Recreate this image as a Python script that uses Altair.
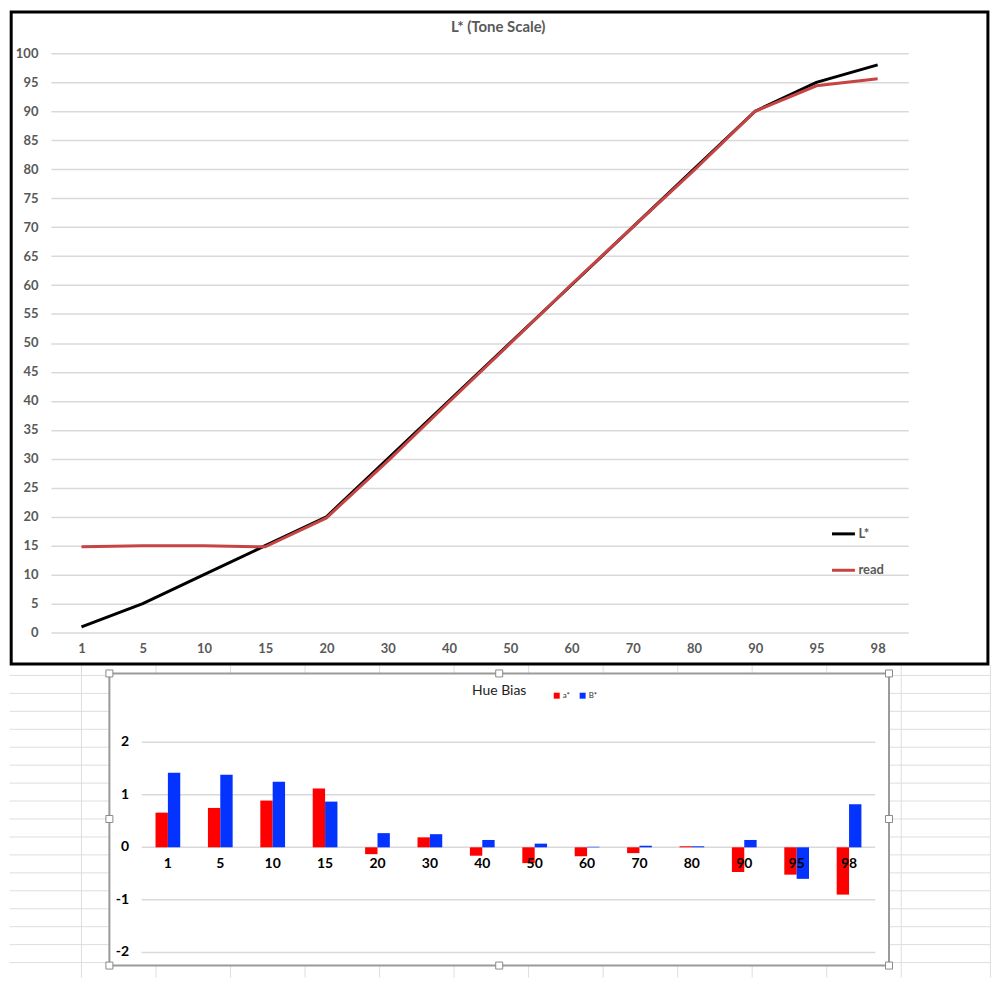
import altair as alt
import pandas as pd

# ---------------- data ----------------
categories = ["1", "5", "10", "15", "20", "30", "40", "50", "60", "70", "80", "90", "95", "98"]
l_star = [1, 5, 10, 15, 20, 30, 40, 50, 60, 70, 80, 90, 95, 98]
read = [14.8, 15.0, 15.0, 14.8, 19.8, 29.6, 39.8, 49.9, 60.1, 70.0, 79.8, 90.0, 94.4, 95.6]
a_star = [0.66, 0.75, 0.89, 1.12, -0.13, 0.19, -0.16, -0.30, -0.17, -0.11, 0.02, -0.47, -0.52, -0.90]
b_star = [1.42, 1.38, 1.25, 0.87, 0.27, 0.25, 0.14, 0.07, 0.01, 0.03, 0.02, 0.14, -0.60, 0.82]
tone_series = ["L*", "read"]
hue_series = ["a*", "B*"]
top_ticks = list(range(0, 101, 5))
bottom_ticks = [2, 1, 0, -1, -2]
bottom_tick_labels = ["2", "1", "0", "-1", "-2"]
top_title = "L* (Tone Scale)"
bottom_title = "Hue Bias"

FONT = "Lato"
GRID = "#d9d9d9"
LABEL_GREY = "#595959"
SHEET = "#dedede"

one = pd.DataFrame({"k": [0]})

# top plot origin on the page (px) used for page-level decorations
OX1, OY1 = 49.3, 51.0

# ---------------- spreadsheet background (decoration, below the top frame) ----------------
sheet_cols = [80 + 74.75 * k for k in range(12)] + [991.7]
sheet_rows = [675 + 18.0 * k for k in range(17)]
vcols = pd.DataFrame({"px": [c - OX1 for c in sheet_cols]})
hrows = pd.DataFrame({"py": [r - OY1 for r in sheet_rows]})
sheet_v = alt.Chart(vcols).mark_rule(color=SHEET, strokeWidth=1).encode(
    x=alt.X("px:Q", scale=None), y=alt.value(665 - OY1), y2=alt.value(978 - OY1)
)
sheet_h = alt.Chart(hrows).mark_rule(color=SHEET, strokeWidth=1).encode(
    y=alt.Y("py:Q", scale=None), x=alt.value(8 - OX1), x2=alt.value(992 - OX1)
)

# ---------------- top chart: L* (Tone Scale) ----------------
W1, H1 = 860, 581
tone = pd.DataFrame({
    "cat": categories * 2,
    "value": l_star + read,
    "series": [tone_series[0]] * len(categories) + [tone_series[1]] * len(categories),
})

x_top = alt.X(
    "cat:O", sort=categories,
    scale=alt.Scale(type="point", padding=0.5),
    axis=alt.Axis(title=None, labelAngle=0, labelFont=FONT, labelFontSize=13,
                  labelFontWeight="bold", labelColor=LABEL_GREY, labelPadding=10,
                  ticks=False, domain=False, grid=False),
)
y_top = alt.Y(
    "value:Q",
    scale=alt.Scale(domain=[0, 100], nice=False, zero=False),
    axis=alt.Axis(title=None, values=top_ticks, labelFont=FONT, labelFontSize=13,
                  labelFontWeight="bold", labelColor=LABEL_GREY, labelPadding=13,
                  ticks=False, domain=False, gridColor=GRID, gridWidth=1.5),
)

lines = alt.Chart(tone).mark_line(strokeWidth=3).encode(
    x=x_top,
    y=y_top,
    color=alt.Color(
        "series:N",
        scale=alt.Scale(domain=tone_series, range=["#000000", "#C74444"]),
        legend=alt.Legend(title=None, orient="none", legendX=782, legendY=469,
                          symbolType="stroke", symbolSize=529, symbolStrokeWidth=3,
                          labelFont=FONT, labelFontSize=13, labelFontWeight="bold",
                          labelColor=LABEL_GREY, labelOffset=2, rowPadding=16.5,
                          padding=0),
    ),
)

top_frame = alt.Chart(one).mark_rect(filled=False, stroke="#000000", strokeWidth=3).encode(
    x=alt.value(-39.8), x2=alt.value(939.9), y=alt.value(-41.5), y2=alt.value(612.5)
)
top_title_mark = alt.Chart(one).mark_text(
    text=top_title, font=FONT, fontSize=15, fontWeight="bold", color=LABEL_GREY,
    align="center", baseline="middle"
).encode(x=alt.value(448.7), y=alt.value(-26))

top = alt.layer(sheet_v, sheet_h, top_frame, lines, top_title_mark).properties(
    width=W1, height=H1
)

# ---------------- bottom chart: Hue Bias ----------------
W2, H2 = 860, 210.8
OX2, OY2 = 49.3, 742.0
hue = pd.DataFrame({
    "cat": categories * 2,
    "value": a_star + b_star,
    "series": [hue_series[0]] * len(categories) + [hue_series[1]] * len(categories),
})
ticks_df = pd.DataFrame({"v": bottom_ticks, "label": bottom_tick_labels})
cats_df = pd.DataFrame({"cat": categories})

x_scale2 = alt.Scale(range=[91.1, 826.9], paddingInner=0.528, paddingOuter=0.264)
y_scale2 = alt.Scale(domain=[-2, 2], nice=False, zero=False)

grid2 = alt.Chart(ticks_df).mark_rule(color=GRID, strokeWidth=1.5).encode(
    y=alt.Y("v:Q", scale=y_scale2, axis=None),
    x=alt.value(91.1), x2=alt.value(826.9),
)
ylab2 = alt.Chart(ticks_df).mark_text(
    align="right", baseline="middle", font=FONT, fontSize=14, fontWeight="bold", color="#000000"
).encode(
    y=alt.Y("v:Q", scale=y_scale2, axis=None),
    x=alt.value(78.4),
    text="label:N",
)
bars = alt.Chart(hue).mark_bar().encode(
    x=alt.X("cat:O", sort=categories, scale=x_scale2, axis=None),
    xOffset=alt.XOffset("series:N", sort=hue_series,
                        scale=alt.Scale(paddingInner=0, paddingOuter=0)),
    y=alt.Y("value:Q", scale=y_scale2, axis=None),
    color=alt.Color(
        "series:N",
        scale=alt.Scale(domain=hue_series, range=["#FF0000", "#0433FF"]),
        legend=alt.Legend(title=None, orient="none", direction="horizontal",
                          legendX=503.4, legendY=-50.7, symbolType="square",
                          symbolSize=36, symbolStrokeWidth=0, labelFont=FONT,
                          labelFontSize=8, labelColor="#333333", labelOffset=2,
                          columnPadding=8, padding=0),
    ),
)
xlab2 = alt.Chart(cats_df).mark_text(
    font=FONT, fontSize=14, fontWeight="bold", color="#000000", baseline="middle", dy=17
).encode(
    x=alt.X("cat:O", sort=categories, scale=x_scale2, axis=None),
    y=alt.datum(0),
    text="cat:N",
)
bottom_frame = alt.Chart(one).mark_rect(fill="white", stroke="#9a9a9a", strokeWidth=2).encode(
    x=alt.value(108 - OX2), x2=alt.value(890 - OX2), y=alt.value(673 - OY2), y2=alt.value(966 - OY2)
)
handles = pd.DataFrame({
    "hx": [108 - OX2, 499 - OX2, 890 - OX2, 108 - OX2, 890 - OX2, 108 - OX2, 499 - OX2, 890 - OX2],
    "hy": [673 - OY2, 673 - OY2, 673 - OY2, 819 - OY2, 819 - OY2, 966 - OY2, 966 - OY2, 966 - OY2],
})
handle_marks = alt.Chart(handles).mark_square(
    size=49, fill="white", stroke="#8a8a8a", strokeWidth=1, opacity=1, filled=True
).encode(x=alt.X("hx:Q", scale=None), y=alt.Y("hy:Q", scale=None))
bottom_title_mark = alt.Chart(one).mark_text(
    text=bottom_title, font=FONT, fontSize=14, color="#222222",
    align="center", baseline="middle"
).encode(x=alt.value(449.7), y=alt.value(-51))

bottom = alt.layer(
    bottom_frame, handle_marks, grid2, ylab2, bars, xlab2, bottom_title_mark
).properties(width=W2, height=H2)

chart = (
    alt.vconcat(top, bottom, spacing=110, bounds="flush")
    .resolve_scale(color="independent", x="independent", y="independent")
    .properties(padding=0, background="white")
    .configure_view(stroke="transparent")
)

chart.save("out.html", embed_options={"renderer": "svg", "actions": False})
